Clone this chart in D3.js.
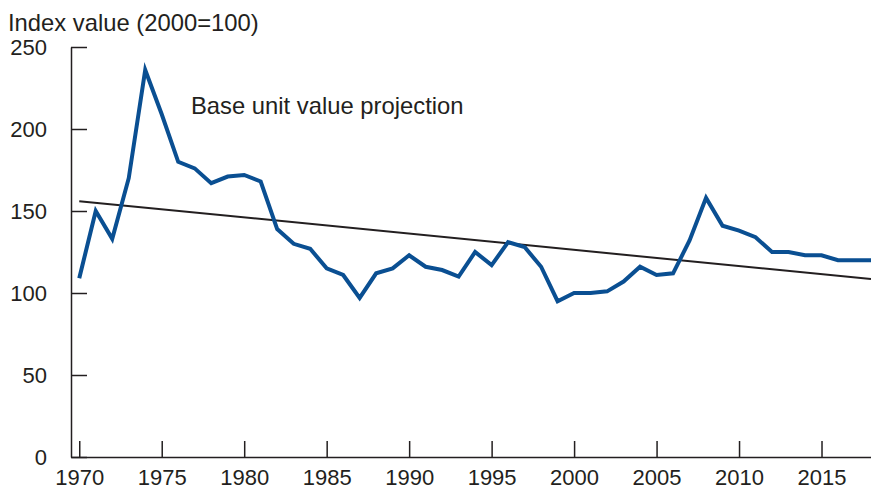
<!DOCTYPE html>
<html>
<head>
<meta charset="utf-8">
<title>Base unit value index</title>
<script src="https://cdn.jsdelivr.net/npm/d3@7/dist/d3.min.js"></script>
<style>
  body { margin: 0; background: #fff; }
  svg text { font-family: "Liberation Sans", Arial, sans-serif; fill: #231f20; }
  .axis path, .axis line { stroke: #231f20; stroke-width: 1.5; fill: none; }
  .axis text { font-size: 22px; }
</style>
</head>
<body>
<svg id="chart" width="871" height="490"></svg>
<script>
// years 1970-2018
var years = d3.range(1970, 2019);
var indexValues = [109, 150, 133, 170, 236, 209, 180, 176, 167, 171,
                   172, 168, 139, 130, 127, 115, 111, 97, 112, 115,
                   123, 116, 114, 110, 125, 117, 131, 128, 116, 95,
                   100, 100, 101, 107, 116, 111, 112, 132, 158, 141,
                   138, 134, 125, 125, 123, 123, 120, 120, 120];
// projection line end points
var trendYears = [1970, 2018];
var trendValues = [156, 108.5];
var yTicks = [0, 50, 100, 150, 200, 250];
var xTicks = [1970, 1975, 1980, 1985, 1990, 1995, 2000, 2005, 2010, 2015];

var svg = d3.select("#chart");

var x = d3.scaleLinear().domain([1969.5, 2018]).range([71, 871]);
var y = d3.scaleLinear().domain([0, 250]).range([457, 47]);

svg.append("g")
  .attr("class", "axis")
  .attr("transform", "translate(71,0)")
  .call(d3.axisLeft(y).tickValues(yTicks).tickSizeInner(-16).tickSizeOuter(0).tickPadding(24));

svg.append("g")
  .attr("class", "axis")
  .attr("transform", "translate(0,457)")
  .call(d3.axisBottom(x).tickValues(xTicks).tickFormat(d3.format("d"))
    .tickSizeInner(-16).tickSizeOuter(0).tickPadding(12));

var line = d3.line()
  .x(function(d){ return x(d[0]); })
  .y(function(d){ return y(d[1]); });

svg.append("path")
  .datum(d3.zip(trendYears, trendValues))
  .attr("d", line)
  .attr("fill", "none")
  .attr("stroke", "#231f20")
  .attr("stroke-width", 2);

svg.append("path")
  .datum(d3.zip(years, indexValues))
  .attr("d", line)
  .attr("fill", "none")
  .attr("stroke", "#0a4f92")
  .attr("stroke-width", 4)
  .attr("stroke-linejoin", "miter");

svg.append("text")
  .attr("x", 8).attr("y", 31)
  .style("font-size", "23.8px")
  .text("Index value (2000=100)");

svg.append("text")
  .attr("x", 191).attr("y", 114)
  .style("font-size", "23.8px")
  .text("Base unit value projection");
</script>
</body>
</html>
